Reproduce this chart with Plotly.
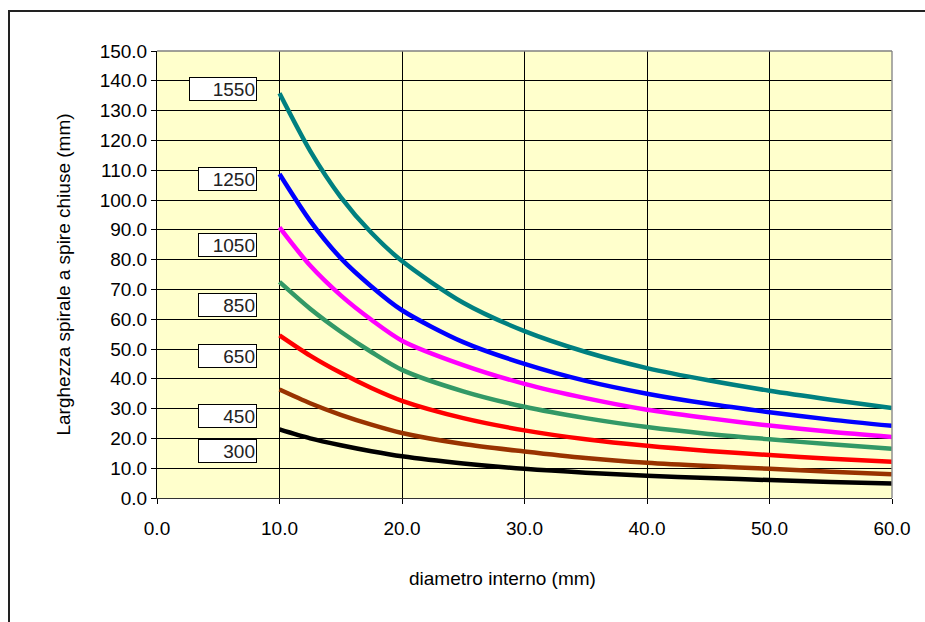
import plotly.graph_objects as go

# Diametro interno (mm)
diam = [10.0, 12.5, 15.0, 17.5, 20.0, 25.0, 30.0, 35.0, 40.0, 45.0, 50.0, 55.0, 60.0]

series_names = ["1550", "1250", "1050", "850", "650", "450", "300"]

s1550 = [135.8, 116.5, 101.0, 89.0, 79.5, 65.5, 56.0, 49.0, 43.6, 39.5, 36.0, 33.0, 30.2]
s1250 = [108.7, 93.0, 80.5, 71.0, 63.0, 52.3, 45.0, 39.3, 35.0, 31.6, 28.8, 26.3, 24.2]
s1050 = [90.8, 78.0, 68.0, 59.8, 52.8, 44.6, 38.3, 33.5, 29.6, 26.8, 24.3, 22.2, 20.5]
s850 = [72.5, 63.5, 55.8, 49.0, 43.0, 35.8, 30.6, 26.8, 23.8, 21.5, 19.7, 18.0, 16.5]
s650 = [54.6, 47.8, 42.0, 36.9, 32.6, 26.8, 22.7, 19.7, 17.5, 15.8, 14.4, 13.2, 12.2]
s450 = [36.4, 31.8, 27.9, 24.6, 21.8, 18.1, 15.6, 13.4, 11.8, 10.7, 9.8, 8.8, 8.0]
s300 = [23.0, 20.0, 17.7, 15.7, 14.0, 11.6, 9.8, 8.5, 7.5, 6.7, 6.0, 5.4, 4.9]

all_series = [s1550, s1250, s1050, s850, s650, s450, s300]
colors = ["#008080", "#0000FF", "#FF00FF", "#339966", "#FF0000", "#993300", "#000000"]

# label box vertical positions (data units)
label_y = [137.2, 107.0, 85.0, 64.8, 47.8, 27.4, 15.8]

x_title = "diametro interno (mm)"
y_title = "Larghezza spirale a spire chiuse (mm)"

FONT = "Liberation Sans, Arial, sans-serif"

fig = go.Figure()
for name, ys, c in zip(series_names, all_series, colors):
    fig.add_trace(go.Scatter(x=diam, y=ys, mode="lines", name=name,
                             line=dict(color=c, width=4.5, shape="spline", smoothing=0.8),
                             showlegend=False))

for name, ly in zip(series_names, label_y):
    fig.add_annotation(x=8.2, y=ly, xref="x", yref="y", text=name, showarrow=False,
                       xanchor="right", yanchor="middle", align="right",
                       width=(64 if name == "1550" else 55), height=20,
                       bgcolor="white", bordercolor="black", borderwidth=1, borderpad=1,
                       font=dict(family=FONT, size=19, color="#222222"))

# x axis title (centred slightly left of the plot centre, as in the original)
fig.add_annotation(x=(502 - 157) / 735, y=(498 - 578) / 447, xref="paper", yref="paper",
                   text=x_title, showarrow=False, xanchor="center", yanchor="middle",
                   font=dict(family=FONT, size=19, color="black"))

fig.update_layout(
    width=925, height=622,
    margin=dict(l=157, r=33, t=51, b=124),
    paper_bgcolor="white",
    plot_bgcolor="#FFFFCC",
    font=dict(family=FONT, size=19, color="black"),
    xaxis=dict(range=[0, 60], dtick=10, tick0=0, tickformat=".1f",
               showgrid=True, gridcolor="black", gridwidth=1,
               showline=True, linecolor="#333333", linewidth=1,
               ticks="outside", ticklen=5, tickcolor="black",
               ticklabelstandoff=8, automargin=False,
               zeroline=False, fixedrange=True),
    yaxis=dict(range=[0, 150], dtick=10, tick0=0, tickformat=".1f",
               showgrid=True, gridcolor="black", gridwidth=1,
               showline=True, linecolor="black", linewidth=1,
               ticks="outside", ticklen=5, tickcolor="black",
               automargin=False,
               zeroline=False, fixedrange=True,
               title=dict(text=y_title, standoff=24,
                          font=dict(family=FONT, size=19))),
)

# plot-area border (gray) on right and top
fig.add_shape(type="line", xref="paper", yref="paper", x0=1, x1=1, y0=0, y1=1,
              line=dict(color="#909090", width=1.5), layer="above")
fig.add_shape(type="line", xref="paper", yref="paper", x0=0, x1=1, y0=1, y1=1,
              line=dict(color="#808080", width=1.5), layer="above")

# outer chart frame (left and top visible)
fig.add_shape(type="rect", xref="paper", yref="paper",
              x0=(9 - 157) / 735, x1=(940 - 157) / 735,
              y0=(498 - 640) / 447, y1=(498 - 11) / 447,
              line=dict(color="#222222", width=2), fillcolor="rgba(0,0,0,0)", layer="above")

fig.write_html("out.html", config={"displayModeBar": False},
               post_script="document.body.style.margin='0';")
